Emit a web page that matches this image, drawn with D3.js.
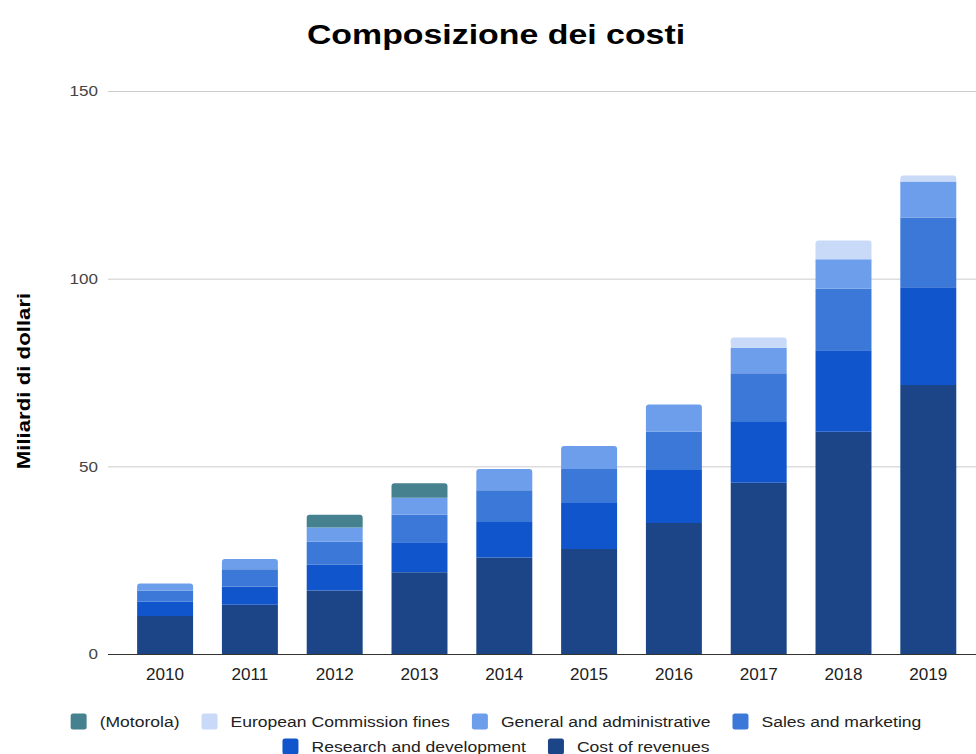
<!DOCTYPE html>
<html>
<head>
<meta charset="utf-8">
<script src="https://cdn.jsdelivr.net/npm/d3@7"></script>
<style>
  html, body { margin: 0; padding: 0; background: #fff; }
  svg { display: block; font-family: "Liberation Sans", Arial, sans-serif; }
</style>
</head>
<body>
<svg id="chart" width="976" height="754"></svg>
<script>
// Annual cost breakdown, billions of dollars
const years = ["2010","2011","2012","2013","2014","2015","2016","2017","2018","2019"];
const costOfRevenues = [10.1, 13.1, 16.9, 21.8, 25.7, 28.0, 34.9, 45.6, 59.2, 71.7];
const researchDev    = [3.8, 4.9, 6.9, 8.0, 9.5, 12.2, 14.1, 16.2, 21.7, 26.0];
const salesMarketing = [3.0, 4.6, 6.1, 7.3, 8.4, 9.1, 10.2, 13.0, 16.4, 18.6];
const generalAdmin   = [1.9, 2.7, 3.8, 4.5, 5.7, 6.1, 7.3, 6.8, 7.9, 9.6];
const ecFines        = [0, 0, 0, 0, 0, 0, 0, 2.7, 5.0, 1.6];
const motorola       = [0, 0, 3.4, 3.9, 0, 0, 0, 0, 0, 0];
const yTicks = [0, 50, 100, 150];

// Stack order from the bottom up
const series = [
  { name: "Cost of revenues", values: costOfRevenues, color: "#1c4587" },
  { name: "Research and development", values: researchDev, color: "#1155cc" },
  { name: "Sales and marketing", values: salesMarketing, color: "#3c78d8" },
  { name: "General and administrative", values: generalAdmin, color: "#6d9eeb" },
  { name: "European Commission fines", values: ecFines, color: "#c9daf8" },
  { name: "(Motorola)", values: motorola, color: "#45818e" }
];
// Legend order
const legendRows = [
  ["(Motorola)", "European Commission fines", "General and administrative", "Sales and marketing"],
  ["Research and development", "Cost of revenues"]
];

const svg = d3.select("#chart");
const W = 976, H = 754;
const plotLeft = 108, plotRight = 976, plotTop = 91, plotBottom = 654;

const x = d3.scaleBand().domain(years).range([122.7, 970.7]).paddingInner(0.34).paddingOuter(0.17);
const y = d3.scaleLinear().domain([0, 150]).range([plotBottom, plotTop]);

// Text with a horizontal stretch factor, positioned at (px, py)
function wideText(parent, px, py, str, size, sx, opts = {}) {
  const g = parent.append("g")
    .attr("transform", `translate(${px},${py}) ${opts.rotate ? `rotate(${opts.rotate})` : ""} scale(${sx},1)`);
  const t = g.append("text")
    .attr("font-size", size)
    .attr("font-weight", opts.weight || "normal")
    .attr("fill", opts.fill || "#000")
    .attr("text-anchor", opts.anchor || "start")
    .attr("dy", opts.dy || 0)
    .text(str);
  return { g, t, width: t.node().getComputedTextLength() * sx };
}

// Title
wideText(svg, 496, 43.5, "Composizione dei costi", 28, 1.21, { weight: "bold", anchor: "middle" });

// Y axis title
wideText(svg, 30, 381, "Miliardi di dollari", 17.5, 1.27, { weight: "bold", anchor: "middle", rotate: -90 });

// Gridlines
const yAxis = d3.axisLeft(y).tickValues(yTicks).tickSize(-(plotRight - plotLeft)).tickFormat("");
const gy = svg.append("g").attr("transform", `translate(${plotLeft},0)`).call(yAxis);
gy.select(".domain").remove();
gy.selectAll(".tick line").attr("stroke", "#cccccc").attr("stroke-width", 1);
// Y tick labels
yTicks.forEach(v => {
  wideText(svg, plotLeft - 10, y(v), d3.format("d")(v), 15.5, 1.1, { fill: "#444", anchor: "end", dy: "0.35em" });
});

// Stacked bars
const table = years.map((yr, i) => {
  const row = { year: yr };
  series.forEach(s => row[s.name] = s.values[i]);
  return row;
});
const stack = d3.stack().keys(series.map(s => s.name));
const stacked = stack(table);

// topmost non-empty segment per year gets rounded top corners
const topKey = years.map((yr, i) => {
  let k = null;
  series.forEach(s => { if (s.values[i] > 0) k = s.name; });
  return k;
});

function segPath(x0, y0, w, h, rounded) {
  const r = rounded ? Math.min(3, h) : 0;
  return `M${x0},${y0 + h}V${y0 + r}Q${x0},${y0} ${x0 + r},${y0}H${x0 + w - r}Q${x0 + w},${y0} ${x0 + w},${y0 + r}V${y0 + h}Z`;
}

stacked.forEach((layer, li) => {
  const color = series[li].color;
  svg.append("g").selectAll("path")
    .data(layer.filter(d => d[1] - d[0] > 0))
    .join("path")
    .attr("fill", color)
    .attr("d", d => {
      const xi = x(d.data.year);
      const y0 = y(d[1]);
      const h = y(d[0]) - y(d[1]);
      return segPath(xi, y0, x.bandwidth(), h, topKey[years.indexOf(d.data.year)] === layer.key);
    });
});

// X axis baseline and labels
svg.append("line")
  .attr("x1", plotLeft).attr("x2", plotRight)
  .attr("y1", plotBottom + 0.5).attr("y2", plotBottom + 0.5)
  .attr("stroke", "#333").attr("stroke-width", 1.2);
years.forEach(yr => {
  wideText(svg, x(yr) + x.bandwidth() / 2, 680, yr, 16, 1.07, { fill: "#222", anchor: "middle" });
});

// Legend, two centred rows
const colorOf = name => series.find(s => s.name === name).color;
const swW = 16, swH = 16, gapSwText = 13, gapItem = 22;
const legendCenter = 496;
legendRows.forEach((row, ri) => {
  const cy = 721.5 + ri * 25;
  const g = svg.append("g");
  let cx = 0;
  row.forEach(name => {
    const item = g.append("g").attr("transform", `translate(${cx},0)`);
    item.append("rect")
      .attr("x", 0).attr("y", cy - swH / 2).attr("width", swW).attr("height", swH)
      .attr("rx", 2.5).attr("fill", colorOf(name));
    const lbl = wideText(item, swW + gapSwText, cy, name, 15, 1.17, { fill: "#222", dy: "0.35em" });
    cx += swW + gapSwText + lbl.width + gapItem;
  });
  const total = cx - gapItem;
  g.attr("transform", `translate(${legendCenter - total / 2},0)`);
});
</script>
</body>
</html>
